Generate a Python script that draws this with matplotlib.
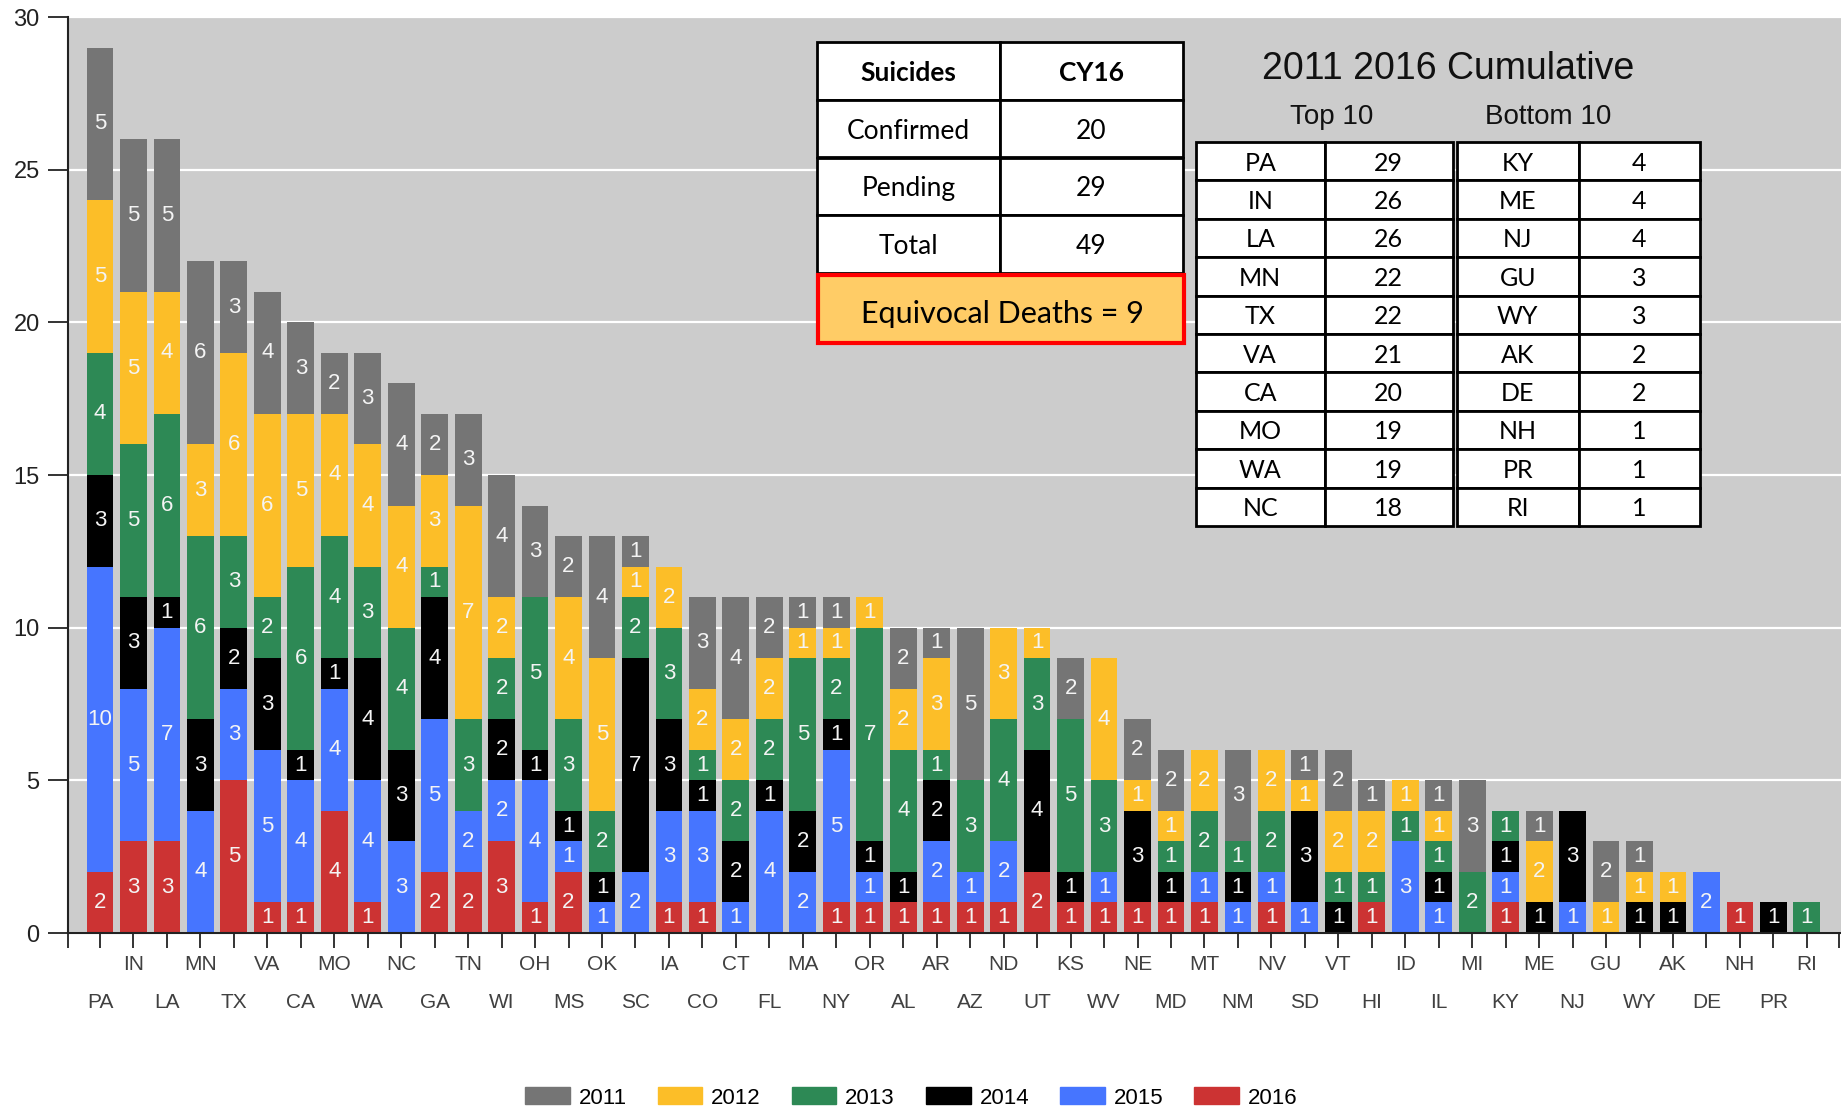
import numpy as np
import matplotlib
matplotlib.use('Agg')
import matplotlib.pyplot as plt
import matplotlib.patches as mpatches

plt.rcParams['font.family'] = ['Liberation Sans', 'DejaVu Sans']

states = ['PA', 'IN', 'LA', 'MN', 'TX', 'VA', 'CA', 'MO', 'WA', 'NC',
          'GA', 'TN', 'WI', 'OH', 'MS', 'OK', 'SC', 'IA', 'CO', 'CT',
          'FL', 'MA', 'NY', 'OR', 'AL', 'AR', 'AZ', 'ND', 'UT', 'KS',
          'WV', 'NE', 'MD', 'MT', 'NM', 'NV', 'SD', 'VT', 'HI', 'ID',
          'IL', 'MI', 'KY', 'ME', 'NJ', 'GU', 'WY', 'AK', 'DE', 'NH',
          'PR', 'RI']

# counts per year, same order as states
y2016 = [2, 3, 3, 0, 5, 1, 1, 4, 1, 0,  2, 2, 3, 1, 2, 0, 0, 1, 1, 0,
         0, 0, 1, 1, 1, 1, 1, 1, 2, 1,  1, 1, 1, 1, 0, 1, 0, 0, 1, 0,
         0, 0, 1, 0, 0, 0, 0, 0, 0, 1,  0, 0]
y2015 = [10, 5, 7, 4, 3, 5, 4, 4, 4, 3,  5, 2, 2, 4, 1, 1, 2, 3, 3, 1,
         4, 2, 5, 1, 0, 2, 1, 2, 0, 0,  1, 0, 0, 1, 1, 1, 1, 0, 0, 3,
         1, 0, 1, 0, 1, 0, 0, 0, 2, 0,  0, 0]
y2014 = [3, 3, 1, 3, 2, 3, 1, 1, 4, 3,  4, 0, 2, 1, 1, 1, 7, 3, 1, 2,
         1, 2, 1, 1, 1, 2, 0, 0, 4, 1,  0, 3, 1, 0, 1, 0, 3, 1, 0, 0,
         1, 0, 1, 1, 3, 0, 1, 1, 0, 0,  1, 0]
y2013 = [4, 5, 6, 6, 3, 2, 6, 4, 3, 4,  1, 3, 2, 5, 3, 2, 2, 3, 1, 2,
         2, 5, 2, 7, 4, 1, 3, 4, 3, 5,  3, 0, 1, 2, 1, 2, 0, 1, 1, 1,
         1, 2, 1, 0, 0, 0, 0, 0, 0, 0,  0, 1]
y2012 = [5, 5, 4, 3, 6, 6, 5, 4, 4, 4,  3, 7, 2, 0, 4, 5, 1, 2, 2, 2,
         2, 1, 1, 1, 2, 3, 0, 3, 1, 0,  4, 1, 1, 2, 0, 2, 1, 2, 2, 1,
         1, 0, 0, 2, 0, 1, 1, 1, 0, 0,  0, 0]
y2011 = [5, 5, 5, 6, 3, 4, 3, 2, 3, 4,  2, 3, 4, 3, 2, 4, 1, 0, 3, 4,
         2, 1, 1, 0, 2, 1, 5, 0, 0, 2,  0, 2, 2, 0, 3, 0, 1, 2, 1, 0,
         1, 3, 0, 1, 0, 2, 1, 0, 0, 0,  0, 0]

# stacked bottom -> top
stack = [('2016', y2016, '#cc3333'), ('2015', y2015, '#4675ff'),
         ('2014', y2014, '#000000'), ('2013', y2013, '#2d8955'),
         ('2012', y2012, '#fcbe28'), ('2011', y2011, '#757575')]
legend_order = ['2011', '2012', '2013', '2014', '2015', '2016']

cy16_rows = [['Confirmed', '20'], ['Pending', '29'], ['Total', '49']]
equivocal = 9

W, H = 1841, 1108
fig = plt.figure(figsize=(W / 100, H / 100), dpi=100)
ax = fig.add_axes([68 / W, 1 - 933 / H, 1 - 68 / W, (933 - 17) / H])
ax.set_facecolor('#cccccc')

x = np.arange(len(states))
bottom = np.zeros(len(states))
for name, vals, col in stack:
    vals = np.array(vals)
    bars = ax.bar(x, vals, 0.8, bottom=bottom, color=col, zorder=2)
    ax.bar_label(bars, labels=[str(v) if v else '' for v in vals],
                 label_type='center', color='#f4f4f4', fontsize=16)
    bottom += vals
totals = bottom.astype(int)

ax.set_xlim(-0.956, 52.02)
ax.set_ylim(0, 30)
ax.set_yticks(range(0, 31, 5))
ax.yaxis.grid(True, color='white', lw=1.6, zorder=0)
ax.set_axisbelow(True)
ax.tick_params(axis='y', length=14.4, width=1.4, pad=6, labelsize=17,
               color='#333333', labelcolor='#222222')
ax.set_xticks([-0.956] + list(x) + [51.97])
ax.set_xticklabels([])
ax.tick_params(axis='x', length=11, width=1.4, color='#333333')
for s in ['top', 'right']:
    ax.spines[s].set_visible(False)
for s in ['left', 'bottom']:
    ax.spines[s].set_linewidth(1.5)
    ax.spines[s].set_color('#222222')

for i, s in enumerate(states):
    off = -32 if i % 2 else -69
    ax.annotate(s, xy=(i, 0), xycoords=('data', 'axes fraction'),
                xytext=(0, off), textcoords='offset pixels',
                ha='center', va='center', fontsize=15, color='#404040',
                annotation_clip=False)

# legend
cmap = {n: c for n, _, c in stack}
handles = [mpatches.Patch(color=cmap[y], label=y) for y in legend_order]
fig.legend(handles=handles, loc='center', bbox_to_anchor=(0.495, 0.009),
           ncol=6, frameon=False, fontsize=16, handlelength=2.0,
           handleheight=0.8, handletextpad=0.4, columnspacing=1.4)

# overlay for the tables (pixel coords)
ov = fig.add_axes([0, 0, 1, 1], zorder=5)
ov.set_xlim(0, W)
ov.set_ylim(H, 0)
ov.axis('off')
ov.patch.set_alpha(0)

def bbox(x0, y0, x1, y1):
    return [x0 / W, 1 - y1 / H, (x1 - x0) / W, (y1 - y0) / H]

def style_table(tb, size, bold_row=None):
    tb.auto_set_font_size(False)
    tb.set_fontsize(size)
    for (r, c), cell in tb.get_celld().items():
        cell.set_edgecolor('black')
        cell.set_linewidth(2)
        cell.set_facecolor('white')
        t = cell.get_text()
        t.set_fontfamily(['Lato', 'DejaVu Sans'])
        t.set_va('center_baseline')
        if bold_row is not None and r == bold_row:
            t.set_fontweight('bold')

t1 = ov.table(cellText=[['Suicides', 'CY16']] + cy16_rows, cellLoc='center',
              bbox=bbox(817, 42, 1183, 273))
style_table(t1, 19, bold_row=0)

ov.add_patch(mpatches.Rectangle((818, 275), 366, 68, facecolor='#ffcc66',
                                edgecolor='#ff0000', lw=3))
ov.text(1002, 311, f'Equivocal Deaths = {equivocal}', ha='center',
        va='center_baseline', fontsize=22, family=['Lato', 'DejaVu Sans'],
        color='black')

top10 = [[states[i], str(totals[i])] for i in range(10)]
bot10 = [[states[i], str(totals[i])] for i in range(len(states) - 10, len(states))]
t2 = ov.table(cellText=top10, cellLoc='center', bbox=bbox(1196, 142, 1453, 526))
style_table(t2, 18)
t3 = ov.table(cellText=bot10, cellLoc='center', bbox=bbox(1457, 142, 1700, 526))
style_table(t3, 18)

ov.text(1448, 65, '2011 2016 Cumulative', ha='center', va='center_baseline',
        fontsize=27, color='#111111')
ov.text(1332, 114, 'Top 10', ha='center', va='center_baseline', fontsize=20,
        color='#111111')
ov.text(1548, 114, 'Bottom 10', ha='center', va='center_baseline', fontsize=20,
        color='#111111')

fig.savefig('out.png', dpi=100)
